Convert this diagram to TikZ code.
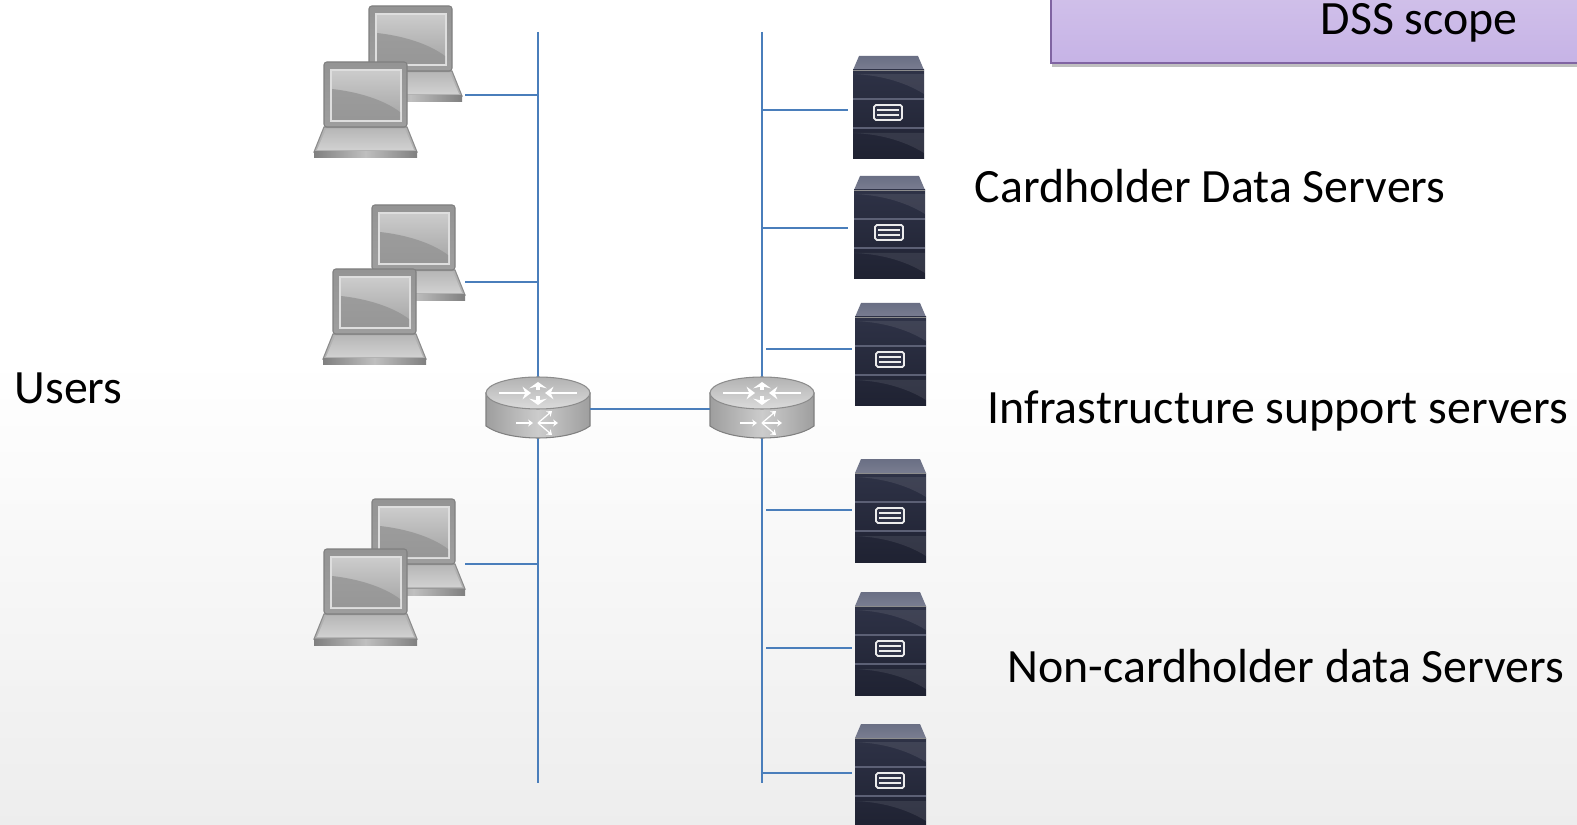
\documentclass[tikz,border=0pt]{standalone}
\usepackage{fontspec}
\setmainfont{Carlito}
\usetikzlibrary{shadows,arrows.meta}
\definecolor{buscol}{HTML}{4A7EBB}
\definecolor{scopeedge}{HTML}{8064A2}
\definecolor{scopetop}{HTML}{DDD0EE}
\definecolor{scopebot}{HTML}{C6B3E6}
\definecolor{srvtop}{HTML}{6A6F84}
\definecolor{srvdark}{HTML}{1F2232}
\definecolor{srvmid}{HTML}{2E3246}
\definecolor{srvline}{HTML}{5C6075}
\tikzset{
	busline/.style={draw=buscol, line width=0.5pt},
	bigtext/.style={inner sep=0pt, anchor=west, font=\fontsize{13.6}{16}\selectfont},
	laptopbox/.pic={
		\coordinate (port) at (96,33);
		\path[fill=gray!60, draw=black!45, line width=0.3pt] (-10,90) -- (0,65) -- (83,65) -- (93,90) -- cycle;
		\path[top color=black!28, bottom color=black!18] (-7,88) -- (2,67) -- (81,67) -- (90,88) -- cycle;
		\path[left color=black!50, right color=black!50, middle color=black!25] (-10,90) rectangle (93,96);
		\path[top color=black!42, bottom color=black!38, draw=black!50, line width=0.3pt, rounded corners=0.8] (0,0) rectangle (83,65);
		\path[top color=black!20, bottom color=black!36, draw=black!13, line width=0.6pt] (7,8) rectangle (77,59);
		\path[fill=black!42, opacity=0.8] (8,27) .. controls (35,30) and (60,38) .. (76,50) -- (76,58) -- (8,58) -- cycle;
	},
	serverbox/.pic={
		\path[top color=srvtop, bottom color=srvtop!90!white] (6,0) -- (65,0) -- (71,14) -- (0,14) -- cycle;
		\path[top color=srvmid, bottom color=srvdark] (0,14) rectangle (71,103);
		\path[fill=white, opacity=0.09] (0,18) .. controls (25,19) and (50,25) .. (71,38) -- (71,18) -- cycle;
		\path[fill=white, opacity=0.09] (0,77) .. controls (25,78) and (50,84) .. (71,97) -- (71,77) -- cycle;
		\draw[black!45, line width=0.3pt] (0,14.5) -- (71,14.5);
		\draw[srvline, line width=0.5pt] (0,43) -- (71,43);
		\draw[srvline, line width=0.5pt] (0,72) -- (71,72);
		\draw[white!85!gray, line width=0.5pt, rounded corners=0.5, fill=srvmid] (21,49) rectangle (49,64);
		\draw[white!85!gray, line width=0.45pt] (24,54) -- (46,54);
		\draw[white!85!gray, line width=0.45pt] (24,59) -- (46,59);
	},
	routerbox/.pic={
		\coordinate (west) at (-52,16);
		\coordinate (east) at (52,16);
		\path[left color=black!38, right color=black!38, middle color=black!20, draw=black!50, line width=0.3pt] (-52,0) -- (-52,33) .. controls (-30,49) and (30,49) .. (52,33) -- (52,0) -- cycle;
		\path[top color=black!30, bottom color=black!14, draw=black!45, line width=0.3pt] (0,0) ellipse (52 and 16);
		\draw[white, line width=0.5pt, -{Stealth[length=2.4pt,width=3.6pt]}] (-39,0) -- (-7,0);
		\draw[white, line width=0.5pt, -{Stealth[length=2.4pt,width=3.6pt]}] (39,0) -- (7,0);
		\draw[white, line width=1pt, -{Stealth[length=1.8pt,width=5pt]}] (0,-3) -- (0,-11);
		\draw[white, line width=1pt, -{Stealth[length=1.8pt,width=5pt]}] (0,3) -- (0,12);
		\draw[white, line width=0.35pt, -{Stealth[length=1.4pt,width=2pt]}] (-22,30) -- (-5,30);
		\draw[white, line width=0.35pt, -{Stealth[length=1.4pt,width=2pt]}] (0,30) -- (14,18);
		\draw[white, line width=0.35pt, -{Stealth[length=1.4pt,width=2pt]}] (0,30) -- (20,30);
		\draw[white, line width=0.35pt, -{Stealth[length=1.4pt,width=2pt]}] (0,30) -- (14,42);
	},
}
\begin{document}
\begin{tikzpicture}[x=0.01cm, y=-0.01cm]
	\useasboundingbox (0,0) rectangle (1577,825);
	\clip (0,0) rectangle (1577,825);
	% Background
	\fill[white] (0,0) rectangle (1577,360);
	\path[top color=white, bottom color=black!7] (0,360) rectangle (1577,825);
	% Scope box
	\node[draw=scopeedge, line width=0.6pt, top color=scopetop, bottom color=scopebot, drop shadow={shadow xshift=0.4pt, shadow yshift=-1.2pt, opacity=0.5}, minimum width=16cm, minimum height=1.5cm, anchor=south west, inner sep=0pt] (scope) at (1050,64) {};
	\node[bigtext] (dss) at (1320,23) {DSS scope};
	% Buses
	\coordinate (busLtop) at (538,32);
	\coordinate (busLbot) at (538,783);
	\coordinate (busRtop) at (762,32);
	\coordinate (busRbot) at (762,783);
	\draw[busline] (busLtop) -- (busLbot);
	\draw[busline] (busRtop) -- (busRbot);
	% Routers
	\pic (rtrA) at (538,393) {routerbox};
	\pic (rtrB) at (762,393) {routerbox};
	\draw[busline] (rtrAeast) -- (rtrBwest);
	% Laptops
	\foreach \i/\x/\y in {1/369/6,2/324/62,3/372/205,4/333/269,5/372/499,6/324/549} {
		\pic (lap\i) at (\x,\y) {laptopbox};
	}
	\foreach \i/\y in {1/95,3/282,5/564} {
		\coordinate (lapport\i) at (465,\y);
		\coordinate (lapbus\i) at (538,\y);
		\draw[busline] (lapport\i) -- (lapbus\i);
	}
	% Servers
	\foreach \i/\x/\y/\xa/\xb/\yc in {1/853/56/762/848/110,2/854/176/762/848/228,3/855/303/766/852/349,4/855/459/766/852/510,5/855/592/766/852/648,6/855/724/762/852/773} {
		\pic (srv\i) at (\x,\y) {serverbox};
		\coordinate (srvbus\i) at (\xa,\yc);
		\coordinate (srvport\i) at (\xb,\yc);
		\draw[busline] (srvbus\i) -- (srvport\i);
	}
	% Labels
	\node[bigtext] (users) at (14,388) {Users};
	\node[bigtext] (cardholder) at (974,186) {Cardholder Data Servers};
	\node[bigtext] (infra) at (987,411) {Infrastructure support servers};
	\node[bigtext] (noncard) at (1007,666) {Non-cardholder data Servers};
\end{tikzpicture}
\end{document}
